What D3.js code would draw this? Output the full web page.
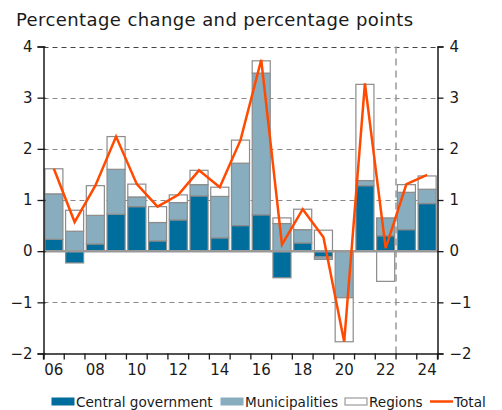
<!DOCTYPE html>
<html>
<head>
<meta charset="utf-8">
<script src="https://cdn.jsdelivr.net/npm/d3@7"></script>
<style>
  body { margin: 0; background: #fff; }
  text { font-family: "DejaVu Sans", Verdana, sans-serif; fill: #1a1a1a; }
</style>
</head>
<body>
<svg id="chart" width="502" height="410"></svg>
<script>
// values
var years = ["06","07","08","09","10","11","12","13","14","15","16","17","18","19","20","21","22","23","24"]
var central = [0.23,-0.23,0.14,0.72,0.87,0.20,0.61,1.08,0.26,0.50,0.71,-0.52,0.16,-0.11,0.00,1.28,0.30,0.42,0.93]
var municipalities = [0.89,0.39,0.56,0.88,0.19,0.36,0.34,0.22,0.81,1.22,2.77,0.54,0.26,-0.05,-0.91,0.10,0.35,0.73,0.28]
var regions = [0.49,0.41,0.58,0.64,0.25,0.31,0.15,0.28,0.18,0.45,0.24,0.11,0.40,0.41,-0.86,1.88,-0.59,0.15,0.26]
var total = [1.61,0.57,1.28,2.24,1.31,0.87,1.10,1.58,1.25,2.17,3.74,0.13,0.82,0.27,-1.77,3.28,0.06,1.31,1.49]
var yTicks = [-2,-1,0,1,2,3,4]
var labelYears = ["06","08","10","12","14","16","18","20","22","24"]

var colors = { central: "#006e9c", municipalities: "#87adbf", regions: "#ffffff", total: "#ff4a00" }

var svg = d3.select("#chart")
var mLeft = 43.5, mRight = 437.5, mTop = 46.5, mBottom = 353.5

var x = d3.scaleBand().domain(years).range([mLeft, mRight]).paddingInner(0.13).paddingOuter(0.065)
var xb = d3.scaleBand().domain(years).range([mLeft, mRight])
var y = d3.scaleLinear().domain([-2, 4]).range([mBottom, mTop])

// title
svg.append("text").attr("x", 16).attr("y", 26)
    .style("font-size", "18px")
    .style("letter-spacing", "0.4px")
    .text("Percentage change and percentage points")

// grid
svg.append("g").selectAll("line")
    .data(yTicks.filter(d => d != 0 && d != -2))
    .enter().append("line")
    .attr("x1", mLeft).attr("x2", mRight)
    .attr("y1", d => Math.round(y(d)) + 0.5).attr("y2", d => Math.round(y(d)) + 0.5)
    .attr("stroke", d => d == 4 ? "#444" : "#888")
    .attr("stroke-dasharray", "5,4")

// build stacks (positive and negative separately)
var series = [["central", central], ["municipalities", municipalities], ["regions", regions]]
var segs = []
years.forEach((yr, i) => {
    var pos = 0, neg = 0
    series.forEach(s => {
        var v = s[1][i]
        if (v >= 0) { segs.push({ yr: yr, key: s[0], y0: pos, y1: pos + v }); pos += v }
        else { segs.push({ yr: yr, key: s[0], y0: neg + v, y1: neg }); neg += v }
    })
})

svg.append("g").selectAll("rect")
    .data(segs.filter(d => d.y1 - d.y0 > 0.001))
    .enter().append("rect")
    .attr("x", d => x(d.yr))
    .attr("width", x.bandwidth())
    .attr("y", d => y(d.y1))
    .attr("height", d => y(d.y0) - y(d.y1))
    .attr("fill", d => colors[d.key])
    .attr("stroke", "#8c8c8c")
    .attr("stroke-width", 1.2)

// zero line
svg.append("line")
    .attr("x1", mLeft).attr("x2", mRight)
    .attr("y1", y(0)).attr("y2", y(0))
    .attr("stroke", "#999").attr("stroke-width", 2.5)

// forecast divider
var divX = xb("23")
svg.append("line")
    .attr("x1", divX).attr("x2", divX)
    .attr("y1", mTop).attr("y2", mBottom)
    .attr("stroke", "#999").attr("stroke-width", 1.5)
    .attr("stroke-dasharray", "7,5")

// total line
var line = d3.line()
    .x((d, i) => xb(years[i]) + xb.bandwidth() / 2)
    .y(d => y(d))
svg.append("path")
    .datum(total)
    .attr("d", line)
    .attr("fill", "none")
    .attr("stroke", colors.total)
    .attr("stroke-width", 2.5)
    .attr("stroke-linejoin", "miter")

// axes
var leftAxis = svg.append("g").attr("transform", `translate(${mLeft},0)`)
    .call(d3.axisLeft(y).tickValues(yTicks).tickSize(6).tickFormat(d3.format("d")))
var rightAxis = svg.append("g").attr("transform", `translate(${mRight},0)`)
    .call(d3.axisRight(y).tickValues(yTicks).tickSize(6).tickFormat(d3.format("d")))
var bottomAxis = svg.append("g").attr("transform", `translate(0,${mBottom})`)
    .call(d3.axisBottom(xb).tickSize(6).tickFormat(d => labelYears.includes(d) ? d : ""))

;[leftAxis, rightAxis, bottomAxis].forEach(a => {
    a.select(".domain").attr("stroke", "#1a1a1a").attr("stroke-width", 1.5)
    a.selectAll(".tick line").attr("stroke", "#1a1a1a").attr("stroke-width", 1.3)
    a.selectAll("text").style("font-size", "15px").attr("fill", "#1a1a1a")
        .style("font-family", "'DejaVu Sans', Verdana, sans-serif")
})
leftAxis.selectAll(".tick line").attr("x2", -6).attr("x1", 2)
leftAxis.selectAll("text").attr("x", -11)
rightAxis.selectAll("text").attr("x", 12)
// bottom ticks sit on band boundaries
bottomAxis.selectAll(".tick line").attr("x1", -xb.bandwidth() / 2).attr("x2", -xb.bandwidth() / 2)
bottomAxis.append("line")
    .attr("x1", mRight).attr("x2", mRight).attr("y1", 0).attr("y2", 6)
    .attr("stroke", "#1a1a1a").attr("stroke-width", 1.3)
bottomAxis.selectAll("text").attr("y", 11)

// legend
var legend = [
    { name: "Central government", key: "central", x: 52 },
    { name: "Municipalities", key: "municipalities", x: 221 },
    { name: "Regions", key: "regions", x: 345 },
    { name: "Total", key: "total", x: 430 }
]
var lg = svg.append("g")
lg.selectAll("rect")
    .data(legend.filter(d => d.key != "total"))
    .enter().append("rect")
    .attr("x", d => d.x).attr("y", 398)
    .attr("width", 22).attr("height", 7)
    .attr("fill", d => colors[d.key])
    .attr("stroke", d => d.key == "regions" ? "#888" : colors[d.key])
lg.append("line")
    .attr("x1", 430).attr("x2", 453).attr("y1", 401.5).attr("y2", 401.5)
    .attr("stroke", colors.total).attr("stroke-width", 2.5)
lg.selectAll("text")
    .data(legend)
    .enter().append("text")
    .attr("x", d => d.x + 24).attr("y", 407)
    .style("font-size", "13.6px")
    .text(d => d.name)
</script>
</body>
</html>
